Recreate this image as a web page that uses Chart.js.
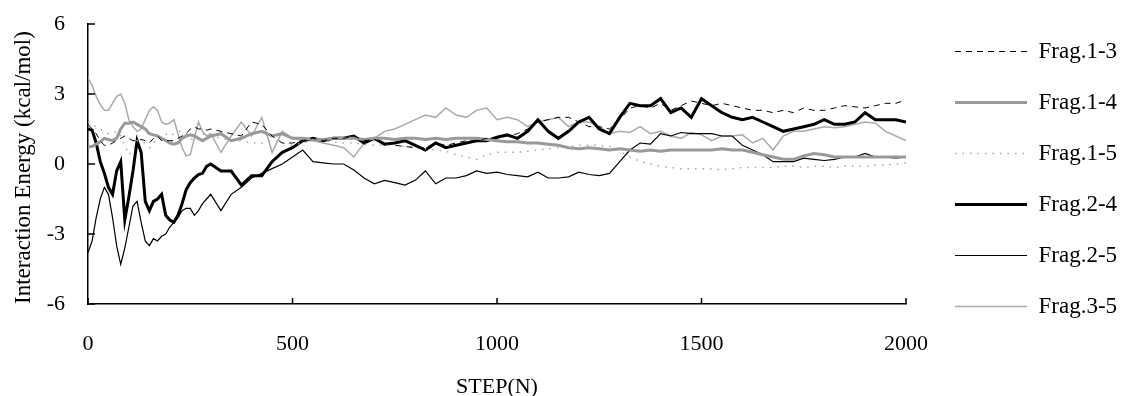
<!DOCTYPE html>
<html>
<head>
<meta charset="utf-8">
<script src="https://cdn.jsdelivr.net/npm/chart.js@4/dist/chart.umd.min.js"></script>
<style>
  body { margin: 0; background: #fff; }
  #wrap { width: 1123px; height: 396px; }
</style>
</head>
<body>
<div id="wrap"><canvas id="energyChart"></canvas></div>
<script>
const steps = [0, 10, 20, 30, 40, 50, 60, 70, 80, 90, 100, 110, 120, 130, 140, 150, 160, 170, 180, 190, 200,
    210, 220, 230, 240, 250, 260, 270, 280, 290, 300,
    325, 350, 375, 400, 425, 450, 475, 500, 525, 550, 575, 600, 625, 650, 675, 700, 725, 750, 775, 800,
    825, 850, 875, 900, 925, 950, 975, 1000,
    1025, 1050, 1075, 1100, 1125, 1150, 1175, 1200, 1225, 1250, 1275, 1300, 1325, 1350, 1375, 1400,
    1425, 1450, 1475, 1500, 1525, 1550, 1575, 1600, 1625, 1650, 1675, 1700, 1725, 1750, 1775, 1800,
    1825, 1850, 1875, 1900, 1925, 1950, 1975, 2000];

const frag13 = [1.7, 1.5, 1.3, 1.0, 0.8, 0.8, 0.9, 1.0, 1.1, 1.2, 1.1, 1.0, 1.0, 1.05, 1.0, 0.9, 1.1, 1.2, 1.0, 1.0,
    1.0, 1.0, 1.1, 1.2, 1.3, 1.5, 1.6, 1.5, 1.5, 1.45, 1.5,
    1.4, 1.3, 1.2, 1.8, 1.7, 1.2, 0.9, 0.9, 1.0, 1.1, 1.0, 1.1, 1.1, 1.2, 1.0, 1.05, 0.9, 0.8, 0.75, 0.7,
    0.7, 0.9, 0.8, 0.9, 1.0, 1.0, 1.1, 1.1,
    1.2, 1.3, 1.5, 1.8, 1.9, 2.0, 2.0, 1.8, 1.6, 1.6, 1.5, 1.9, 2.4, 2.5, 2.4, 2.6, 2.3, 2.5, 2.7, 2.6,
    2.5, 2.6, 2.5, 2.4, 2.3, 2.3, 2.2, 2.3, 2.2, 2.4, 2.3, 2.3, 2.4, 2.5, 2.45, 2.4, 2.5, 2.6, 2.6, 2.75];

const frag14 = [0.75, 0.75, 0.85, 0.95, 1.1, 1.05, 1.0, 1.1, 1.5, 1.75, 1.75, 1.8, 1.7, 1.6, 1.5, 1.3, 1.25, 1.2, 1.1, 1.0,
    0.9, 0.85, 0.9, 1.1, 1.2, 1.25, 1.2, 1.1, 1.0, 1.1, 1.2,
    1.3, 1.0, 1.1, 1.3, 1.4, 1.2, 1.3, 1.1, 1.1, 1.05, 1.05, 1.1, 1.1, 1.1, 1.05, 1.1, 1.1, 1.05, 1.1, 1.1,
    1.05, 1.1, 1.05, 1.1, 1.1, 1.1, 1.05, 1.0,
    0.95, 0.95, 0.9, 0.9, 0.85, 0.8, 0.7, 0.65, 0.7, 0.65, 0.6, 0.65, 0.6, 0.55, 0.6, 0.55, 0.6, 0.6, 0.6, 0.6,
    0.6, 0.65, 0.6, 0.6, 0.5, 0.4, 0.3, 0.2, 0.2, 0.35, 0.45, 0.4, 0.3, 0.3, 0.3, 0.3, 0.3, 0.3, 0.3, 0.3];

const frag15 = [1.8, 1.7, 1.6, 1.5, 1.35, 1.3, 1.3, 1.4, 1.2, 0.8, 0.4, 0.6, 1.0, 1.0, 0.9, 0.7, 0.9, 1.1, 1.2, 1.3,
    1.2, 1.3, 1.4, 1.4, 1.3, 1.1, 1.0, 1.1, 1.3, 1.2, 1.2,
    1.1, 1.0, 1.0, 0.9, 0.9, 1.0, 0.9, 0.8, 0.9, 1.0, 1.0, 0.95, 0.9, 0.9, 0.85, 0.8, 0.8, 0.8, 0.75, 0.7,
    0.65, 0.6, 0.55, 0.4, 0.3, 0.2, 0.4, 0.5,
    0.5, 0.5, 0.55, 0.6, 0.65, 0.7, 0.75, 0.8, 0.8, 0.8, 0.75, 0.55, 0.3, 0.1, 0.0, -0.1, -0.15, -0.2, -0.2, -0.2,
    -0.2, -0.25, -0.2, -0.15, -0.15, -0.15, -0.15, -0.1, -0.1, -0.15, -0.1, -0.1, -0.15, -0.1, -0.1, -0.1, -0.05, -0.05, 0.0, 0.05];

const frag24 = [1.5, 1.45, 0.9, 0.1, -0.4, -1.0, -1.3, -0.3, 0.1, -2.4, -1.4, -0.3, 1.0, 0.5, -1.6, -2.0, -1.6, -1.5, -1.3, -2.2,
    -2.4, -2.5, -2.2, -1.7, -1.1, -0.8, -0.6, -0.45, -0.4, -0.1, 0.0,
    -0.3, -0.3, -0.9, -0.5, -0.5, 0.1, 0.5, 0.7, 1.0, 1.1, 1.0, 1.1, 1.1, 1.2, 0.9, 1.1, 0.85, 0.9, 1.0, 0.8,
    0.6, 0.9, 0.7, 0.8, 0.9, 1.0, 1.0, 1.15,
    1.25, 1.1, 1.4, 1.9, 1.4, 1.1, 1.4, 1.8, 2.0, 1.5, 1.3, 2.0, 2.6, 2.5, 2.5, 2.8, 2.2, 2.4, 2.0, 2.8,
    2.5, 2.2, 2.0, 1.9, 2.0, 1.8, 1.6, 1.4, 1.5, 1.6, 1.7, 1.9, 1.7, 1.7, 1.8, 2.2, 1.9, 1.9, 1.9, 1.8];

const frag25 = [-3.8, -3.3, -2.3, -1.5, -1.0, -1.3, -2.3, -3.5, -4.3, -3.6, -2.7, -1.8, -1.6, -2.5, -3.3, -3.5, -3.2, -3.3, -3.1, -3.0,
    -2.7, -2.5, -2.3, -2.0, -1.9, -1.9, -2.2, -2.0, -1.7, -1.5, -1.3,
    -2.0, -1.3, -1.0, -0.6, -0.4, -0.2, 0.0, 0.3, 0.6, 0.1, 0.05, 0.0, 0.0, -0.26, -0.6, -0.85, -0.7, -0.8, -0.9, -0.7,
    -0.3, -0.85, -0.6, -0.6, -0.5, -0.3, -0.4, -0.35,
    -0.45, -0.5, -0.55, -0.35, -0.6, -0.6, -0.55, -0.35, -0.45, -0.5, -0.4, 0.1, 0.6, 0.9, 0.85, 1.3, 1.2, 1.35, 1.3, 1.3,
    1.3, 1.2, 1.2, 0.8, 0.6, 0.4, 0.1, 0.1, 0.1, 0.25, 0.2, 0.15, 0.2, 0.3, 0.3, 0.45, 0.3, 0.3, 0.25, 0.3];

const frag35 = [3.7, 3.35, 2.9, 2.55, 2.3, 2.3, 2.6, 2.9, 3.0, 2.6, 1.9, 1.6, 1.4, 1.5, 1.9, 2.3, 2.45, 2.3, 1.8, 1.7,
    1.75, 1.9, 1.3, 0.7, 0.35, 0.4, 1.1, 1.8, 1.4, 1.2, 1.3,
    0.5, 1.2, 1.8, 1.2, 2.0, 0.5, 1.4, 1.1, 1.0, 1.0, 0.9, 0.8, 0.7, 0.3, 0.9, 1.1, 1.4, 1.5, 1.7, 1.9,
    2.1, 2.0, 2.4, 2.1, 2.0, 2.3, 2.4, 1.9,
    2.0, 1.9, 1.6, 1.8, 1.9, 2.0, 1.6, 1.8, 1.8, 1.6, 1.3, 1.4, 1.35, 1.6, 1.3, 1.4, 1.2, 1.1, 1.35, 1.25,
    1.0, 1.2, 1.2, 1.25, 0.9, 1.1, 0.6, 1.2, 1.4, 1.4, 1.5, 1.6, 1.55, 1.6, 1.7, 1.8, 1.75, 1.4, 1.2, 1.0];

const xTicks = [0, 500, 1000, 1500, 2000];
const yTicks = [-6, -3, 0, 3, 6];

const serif = "'Liberation Serif', 'Times New Roman', serif";

document.addEventListener('DOMContentLoaded', function() {
    const toPoints = vals => steps.map((s, i) => ({ x: s, y: vals[i] }));

    const datasets = [
        { label: 'Frag.1-3', data: toPoints(frag13), borderColor: '#000', borderWidth: 1, borderDash: [6, 5] },
        { label: 'Frag.1-4', data: toPoints(frag14), borderColor: '#999', borderWidth: 3 },
        { label: 'Frag.1-5', data: toPoints(frag15), borderColor: '#a6a6a6', borderWidth: 1.5, borderDash: [1.5, 6] },
        { label: 'Frag.2-4', data: toPoints(frag24), borderColor: '#000', borderWidth: 3 },
        { label: 'Frag.2-5', data: toPoints(frag25), borderColor: '#000', borderWidth: 1.2 },
        { label: 'Frag.3-5', data: toPoints(frag35), borderColor: '#aaa', borderWidth: 1.5 }
    ].map(d => Object.assign({ backgroundColor: d.borderColor, pointRadius: 0, tension: 0, fill: false }, d));

    // ticks drawn inward, like the original
    const innerTicks = {
        id: 'innerTicks',
        afterDraw(chart) {
            const { ctx, scales: { x, y } } = chart;
            ctx.save();
            ctx.strokeStyle = '#000';
            ctx.lineWidth = 1.5;
            ctx.beginPath();
            xTicks.forEach(v => {
                const px = x.getPixelForValue(v);
                ctx.moveTo(px, y.bottom);
                ctx.lineTo(px, y.bottom - 6);
            });
            yTicks.forEach(v => {
                const py = y.getPixelForValue(v);
                ctx.moveTo(x.left, py);
                ctx.lineTo(x.left + 7, py);
            });
            ctx.stroke();
            ctx.restore();
        }
    };

    // legend sits a bit away from the plot
    const legendGap = {
        id: 'legendGap',
        afterLayout(chart) {
            chart.legend.left += 21;
            chart.legend.right += 21;
        }
    };

    Chart.defaults.color = '#000';
    Chart.defaults.font.family = serif;

    const ctx = document.getElementById('energyChart').getContext('2d');
    new Chart(ctx, {
        type: 'line',
        data: { datasets: datasets },
        options: {
            responsive: true,
            maintainAspectRatio: false,
            animation: false,
            layout: { padding: { top: 12, right: 0, bottom: 0, left: 0 } },
            plugins: {
                tooltip: { enabled: false },
                legend: {
                    position: 'right',
                    align: 'start',
                    labels: {
                        font: { family: serif, size: 23 },
                        color: '#000',
                        usePointStyle: true,
                        pointStyle: 'line',
                        pointStyleWidth: 72,
                        boxHeight: 10,
                        padding: 28,
                        generateLabels: chart => Chart.defaults.plugins.legend.labels.generateLabels(chart).map(item => {
                            const ds = chart.data.datasets[item.datasetIndex];
                            item.lineDash = ds.borderDash || [];
                            item.lineWidth = ds.borderWidth;
                            item.strokeStyle = ds.borderColor;
                            return item;
                        })
                    }
                }
            },
            scales: {
                x: {
                    type: 'linear',
                    min: 0,
                    max: 2000,
                    afterBuildTicks: s => { s.ticks = xTicks.map(v => ({ value: v })); },
                    afterFit: s => { s.height = 92; s.paddingRight = 217; },
                    grid: { display: false, drawTicks: false },
                    border: { color: '#000', width: 1.5 },
                    ticks: { font: { size: 22 }, padding: 27, maxRotation: 0, callback: v => String(v) },
                    title: {
                        display: true,
                        text: 'STEP(N)',
                        font: { size: 22, lineHeight: 1 },
                        padding: { top: 0, bottom: -2 }
                    }
                },
                y: {
                    min: -6,
                    max: 6,
                    afterBuildTicks: s => { s.ticks = yTicks.map(v => ({ value: v })); },
                    afterFit: s => { s.width = 88; s.paddingTop = 24; },
                    grid: { display: false, drawTicks: false },
                    border: { color: '#000', width: 1.5 },
                    ticks: { font: { size: 22 }, padding: 23, callback: v => String(v) },
                    title: {
                        display: true,
                        text: 'Interaction Energy (kcal/mol)',
                        align: 'start',
                        font: { size: 23, lineHeight: 1 },
                        padding: { top: 12, bottom: 0 }
                    }
                }
            }
        },
        plugins: [innerTicks, legendGap]
    });
});
</script>
</body>
</html>
